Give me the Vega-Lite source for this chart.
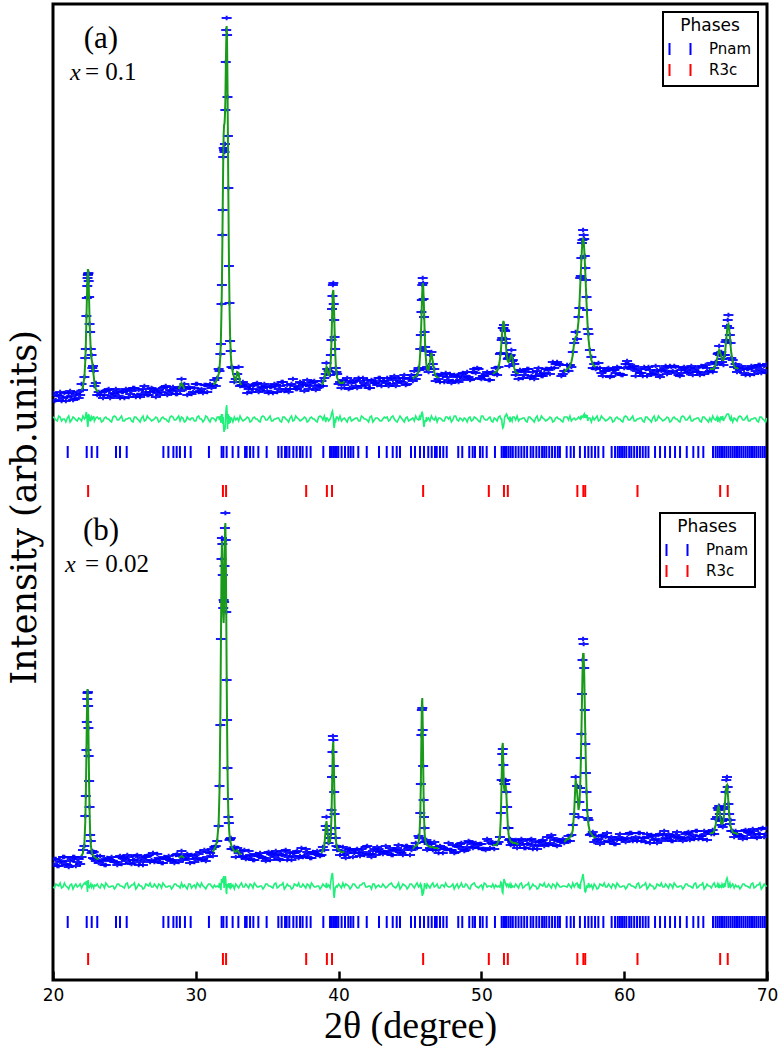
{
"$schema":"https://vega.github.io/schema/vega-lite/v6.json",
"width":714,"height":976,
"autosize":{"type":"none"},
"padding":{"left":53,"top":4,"right":13,"bottom":79},
"background":"white",
"config":{
 "view":{"stroke":"black","strokeWidth":3},
 "axis":{"grid":false,"labelColor":"black","tickColor":"black","titleColor":"black","titleFontWeight":"normal","domain":false},
 "axisY":{"ticks":false,"labels":false,"titleFont":"DejaVu Serif","titleFontSize":35,"titleAngle":-90,"titleX":-18,"titleY":503,"titleAlign":"center","titleBaseline":"alphabetic"},
 "legend":{"titleFont":"DejaVu Sans","titleFontSize":17,"titleFontWeight":"normal","titleColor":"black","titleAnchor":"middle","labelFont":"DejaVu Sans","labelFontSize":15,"labelColor":"black","symbolType":"M-1.05,-0.6L-1.05,0.6M1.05,-0.6L1.05,0.6","symbolSize":400,"symbolStrokeWidth":2,"symbolFillColor":"transparent","strokeColor":"black","strokeWidth":2,"padding":6,"rowPadding":0,"labelOffset":18,"titlePadding":3}
},
"datasets":{
"prof":[
{"t":20.0,"ao":587,"ac":583,"ad":563,"bo":116,"bc":118,"bd":93},
{"t":20.2,"ao":580,"ac":583,"ad":560,"bo":121,"bc":118,"bd":96},
{"t":20.4,"ao":584,"ac":583,"ad":564,"bo":114,"bc":118,"bd":94},
{"t":20.6,"ao":579,"ac":584,"ad":559,"bo":119,"bc":118,"bd":92},
{"t":20.8,"ao":587,"ac":584,"ad":561,"bo":123,"bc":118,"bd":97},
{"t":21.0,"ao":583,"ac":584,"ad":562,"bo":115,"bc":118,"bd":93},
{"t":21.2,"ao":589,"ac":584,"ad":558,"bo":119,"bc":119,"bd":95},
{"t":21.4,"ao":580,"ac":584,"ad":563,"bo":123,"bc":119,"bd":91},
{"t":21.6,"ao":586,"ac":584,"ad":560,"bo":114,"bc":119,"bd":96},
{"t":21.8,"ao":582,"ac":584,"ad":562,"bo":121,"bc":119,"bd":94},
{"t":22.0,"ao":596,"ac":590,"ad":559,"bo":123,"bc":124,"bd":92},
{"t":22.1,"ao":590,"ac":593,"ad":564,"bo":130,"bc":127,"bd":95},
{"t":22.2,"ao":603,"ac":603,"ad":561,"bo":134,"bc":137,"bd":97},
{"t":22.26,"ao":622,"ac":619,"ad":562,"bo":164,"bc":158,"bd":96},
{"t":22.3,"ao":631,"ac":636,"ad":566,"bo":184,"bc":186,"bd":97},
{"t":22.34,"ao":664,"ac":660,"ad":568,"bo":230,"bc":227,"bd":99},
{"t":22.37,"ao":682,"ac":679,"ad":564,"bo":258,"bc":260,"bd":96},
{"t":22.4,"ao":694,"ac":696,"ad":558,"bo":281,"bc":285,"bd":90},
{"t":22.42,"ao":702,"ac":704,"ad":555,"bo":287,"bc":291,"bd":88},
{"t":22.44,"ao":705,"ac":710,"ad":553,"bo":288,"bc":285,"bd":97},
{"t":22.46,"ao":706,"ac":710,"ad":556,"bo":274,"bc":270,"bd":100},
{"t":22.48,"ao":707,"ac":704,"ad":565,"bo":252,"bc":249,"bd":97},
{"t":22.5,"ao":699,"ac":696,"ad":566,"bo":224,"bc":227,"bd":92},
{"t":22.53,"ao":683,"ac":679,"ad":563,"bo":199,"bc":195,"bd":95},
{"t":22.56,"ao":656,"ac":660,"ad":559,"bo":173,"bc":170,"bd":93},
{"t":22.6,"ao":648,"ac":644,"ad":562,"bo":145,"bc":148,"bd":94},
{"t":22.65,"ao":631,"ac":628,"ad":560,"bo":139,"bc":135,"bd":96},
{"t":22.7,"ao":625,"ac":621,"ad":563,"bo":127,"bc":129,"bd":93},
{"t":22.75,"ao":612,"ac":617,"ad":561,"bo":129,"bc":126,"bd":95},
{"t":22.8,"ao":614,"ac":611,"ad":562,"bo":122,"bc":125,"bd":94},
{"t":22.85,"ao":609,"ac":604,"ad":564,"bo":128,"bc":124,"bd":92},
{"t":22.9,"ao":594,"ac":598,"ad":559,"bo":121,"bc":123,"bd":95},
{"t":23.0,"ao":597,"ac":591,"ad":562,"bo":119,"bc":122,"bd":94},
{"t":23.1,"ao":585,"ac":589,"ad":563,"bo":124,"bc":121,"bd":96},
{"t":23.2,"ao":588,"ac":588,"ad":561,"bo":117,"bc":121,"bd":93},
{"t":23.4,"ao":588,"ac":586,"ad":558,"bo":120,"bc":119,"bd":96},
{"t":23.6,"ao":585,"ac":586,"ad":562,"bo":115,"bc":119,"bd":92},
{"t":23.8,"ao":590,"ac":586,"ad":561,"bo":122,"bc":120,"bd":95},
{"t":24.0,"ao":582,"ac":586,"ad":559,"bo":120,"bc":120,"bd":93},
{"t":24.2,"ao":587,"ac":586,"ad":563,"bo":119,"bc":120,"bd":94},
{"t":24.4,"ao":591,"ac":587,"ad":563,"bo":118,"bc":120,"bd":93},
{"t":24.6,"ao":584,"ac":587,"ad":560,"bo":123,"bc":120,"bd":96},
{"t":24.8,"ao":588,"ac":587,"ad":564,"bo":116,"bc":120,"bd":94},
{"t":25.0,"ao":582,"ac":587,"ad":559,"bo":121,"bc":120,"bd":92},
{"t":25.2,"ao":590,"ac":587,"ad":561,"bo":125,"bc":120,"bd":97},
{"t":25.4,"ao":586,"ac":587,"ad":562,"bo":117,"bc":120,"bd":93},
{"t":25.6,"ao":592,"ac":587,"ad":558,"bo":120,"bc":120,"bd":95},
{"t":25.8,"ao":583,"ac":587,"ad":563,"bo":124,"bc":120,"bd":91},
{"t":26.0,"ao":590,"ac":588,"ad":560,"bo":115,"bc":120,"bd":96},
{"t":26.2,"ao":586,"ac":588,"ad":562,"bo":122,"bc":120,"bd":94},
{"t":26.4,"ao":594,"ac":588,"ad":559,"bo":120,"bc":121,"bd":92},
{"t":26.6,"ao":585,"ac":588,"ad":564,"bo":124,"bc":121,"bd":95},
{"t":26.8,"ao":588,"ac":588,"ad":561,"bo":118,"bc":121,"bd":97},
{"t":27.0,"ao":591,"ac":588,"ad":560,"bo":127,"bc":121,"bd":93},
{"t":27.2,"ao":583,"ac":588,"ad":563,"bo":119,"bc":121,"bd":94},
{"t":27.4,"ao":590,"ac":588,"ad":558,"bo":122,"bc":121,"bd":96},
{"t":27.6,"ao":588,"ac":589,"ad":562,"bo":117,"bc":121,"bd":92},
{"t":27.8,"ao":593,"ac":589,"ad":561,"bo":123,"bc":121,"bd":95},
{"t":28.0,"ao":585,"ac":589,"ad":559,"bo":121,"bc":121,"bd":93},
{"t":28.2,"ao":590,"ac":589,"ad":563,"bo":120,"bc":121,"bd":94},
{"t":28.4,"ao":593,"ac":589,"ad":563,"bo":120,"bc":122,"bd":93},
{"t":28.6,"ao":586,"ac":589,"ad":560,"bo":125,"bc":122,"bd":96},
{"t":28.8,"ao":592,"ac":591,"ad":564,"bo":118,"bc":122,"bd":94},
{"t":28.9,"ao":589,"ac":594,"ad":559,"bo":124,"bc":123,"bd":92},
{"t":29.0,"ao":601,"ac":597,"ad":563,"bo":129,"bc":124,"bd":97},
{"t":29.1,"ao":593,"ac":594,"ad":562,"bo":120,"bc":123,"bd":93},
{"t":29.2,"ao":596,"ac":591,"ad":558,"bo":122,"bc":122,"bd":95},
{"t":29.4,"ao":585,"ac":589,"ad":563,"bo":126,"bc":122,"bd":91},
{"t":29.6,"ao":592,"ac":590,"ad":560,"bo":117,"bc":122,"bd":96},
{"t":29.8,"ao":588,"ac":590,"ad":562,"bo":124,"bc":122,"bd":94},
{"t":30.0,"ao":596,"ac":590,"ad":559,"bo":121,"bc":122,"bd":92},
{"t":30.2,"ao":588,"ac":591,"ad":564,"bo":126,"bc":123,"bd":95},
{"t":30.4,"ao":591,"ac":591,"ad":561,"bo":120,"bc":123,"bd":97},
{"t":30.6,"ao":595,"ac":592,"ad":560,"bo":130,"bc":124,"bd":93},
{"t":30.8,"ao":588,"ac":593,"ad":563,"bo":123,"bc":125,"bd":94},
{"t":31.0,"ao":596,"ac":594,"ad":558,"bo":127,"bc":126,"bd":96},
{"t":31.2,"ao":595,"ac":596,"ad":562,"bo":124,"bc":128,"bd":92},
{"t":31.3,"ao":600,"ac":596,"ad":561,"bo":133,"bc":131,"bd":95},
{"t":31.4,"ao":594,"ac":598,"ad":559,"bo":134,"bc":134,"bd":93},
{"t":31.5,"ao":602,"ac":601,"ad":563,"bo":139,"bc":140,"bd":94},
{"t":31.6,"ao":611,"ac":606,"ad":563,"bo":154,"bc":157,"bd":93},
{"t":31.66,"ao":609,"ac":612,"ad":560,"bo":194,"bc":189,"bd":97},
{"t":31.72,"ao":626,"ac":624,"ad":564,"bo":255,"bc":263,"bd":92},
{"t":31.76,"ao":636,"ac":642,"ad":557,"bo":341,"bc":338,"bd":90},
{"t":31.8,"ao":676,"ac":670,"ad":566,"bo":421,"bc":412,"bd":101},
{"t":31.83,"ao":695,"ac":697,"ad":562,"bo":442,"bc":439,"bd":99},
{"t":31.86,"ao":745,"ac":736,"ad":566,"bo":436,"bc":428,"bd":100},
{"t":31.89,"ao":770,"ac":778,"ad":556,"bo":405,"bc":396,"bd":98},
{"t":31.92,"ao":823,"ac":818,"ad":563,"bo":372,"bc":366,"bd":97},
{"t":31.95,"ao":832,"ac":845,"ad":552,"bo":380,"bc":357,"bd":104},
{"t":31.98,"ao":830,"ac":855,"ad":548,"bo":378,"bc":372,"bd":92},
{"t":32.01,"ao":828,"ac":856,"ad":552,"bo":414,"bc":407,"bd":96},
{"t":32.04,"ao":836,"ac":864,"ad":550,"bo":452,"bc":445,"bd":101},
{"t":32.07,"ao":870,"ac":879,"ad":556,"bo":467,"bc":457,"bd":104},
{"t":32.1,"ao":918,"ac":910,"ad":566,"bo":440,"bc":429,"bd":100},
{"t":32.13,"ao":950,"ac":937,"ad":572,"bo":368,"bc":373,"bd":88},
{"t":32.16,"ao":962,"ac":954,"ad":575,"bo":300,"bc":309,"bd":86},
{"t":32.19,"ao":945,"ac":937,"ad":568,"bo":260,"bc":254,"bd":96},
{"t":32.22,"ao":883,"ac":896,"ad":551,"bo":212,"bc":212,"bd":94},
{"t":32.25,"ao":844,"ac":840,"ad":563,"bo":181,"bc":184,"bd":93},
{"t":32.28,"ao":792,"ac":784,"ad":566,"bo":163,"bc":166,"bd":93},
{"t":32.32,"ao":714,"ac":721,"ad":556,"bo":157,"bc":153,"bd":97},
{"t":32.36,"ao":677,"ac":675,"ad":564,"bo":140,"bc":145,"bd":93},
{"t":32.4,"ao":639,"ac":645,"ad":557,"bo":141,"bc":140,"bd":92},
{"t":32.45,"ao":629,"ac":625,"ad":562,"bo":142,"bc":137,"bd":97},
{"t":32.5,"ao":613,"ac":615,"ad":562,"bo":131,"bc":134,"bd":93},
{"t":32.6,"ao":612,"ac":607,"ad":558,"bo":131,"bc":131,"bd":95},
{"t":32.7,"ao":598,"ac":602,"ad":563,"bo":133,"bc":129,"bd":91},
{"t":32.8,"ao":601,"ac":599,"ad":560,"bo":123,"bc":128,"bd":96},
{"t":32.9,"ao":606,"ac":608,"ad":562,"bo":132,"bc":130,"bd":94},
{"t":33.0,"ao":613,"ac":607,"ad":559,"bo":127,"bc":128,"bd":92},
{"t":33.1,"ao":594,"ac":597,"ad":564,"bo":129,"bc":126,"bd":95},
{"t":33.2,"ao":595,"ac":595,"ad":561,"bo":123,"bc":126,"bd":97},
{"t":33.4,"ao":596,"ac":593,"ad":560,"bo":130,"bc":124,"bd":93},
{"t":33.6,"ao":587,"ac":592,"ad":563,"bo":122,"bc":124,"bd":94},
{"t":33.8,"ao":594,"ac":592,"ad":558,"bo":125,"bc":124,"bd":96},
{"t":34.0,"ao":591,"ac":592,"ad":562,"bo":120,"bc":124,"bd":92},
{"t":34.2,"ao":596,"ac":592,"ad":561,"bo":126,"bc":124,"bd":95},
{"t":34.4,"ao":588,"ac":592,"ad":559,"bo":124,"bc":124,"bd":93},
{"t":34.6,"ao":593,"ac":592,"ad":563,"bo":123,"bc":124,"bd":94},
{"t":34.8,"ao":596,"ac":592,"ad":563,"bo":122,"bc":124,"bd":93},
{"t":35.0,"ao":589,"ac":592,"ad":560,"bo":127,"bc":124,"bd":96},
{"t":35.2,"ao":593,"ac":592,"ad":564,"bo":120,"bc":124,"bd":94},
{"t":35.4,"ao":587,"ac":592,"ad":559,"bo":125,"bc":124,"bd":92},
{"t":35.6,"ao":595,"ac":592,"ad":561,"bo":129,"bc":124,"bd":97},
{"t":35.8,"ao":591,"ac":592,"ad":562,"bo":121,"bc":124,"bd":93},
{"t":36.0,"ao":598,"ac":593,"ad":558,"bo":125,"bc":125,"bd":95},
{"t":36.2,"ao":589,"ac":593,"ad":563,"bo":129,"bc":125,"bd":91},
{"t":36.4,"ao":595,"ac":593,"ad":560,"bo":120,"bc":125,"bd":96},
{"t":36.6,"ao":591,"ac":593,"ad":562,"bo":127,"bc":125,"bd":94},
{"t":36.8,"ao":601,"ac":595,"ad":559,"bo":124,"bc":125,"bd":92},
{"t":37.0,"ao":591,"ac":594,"ad":564,"bo":128,"bc":125,"bd":95},
{"t":37.2,"ao":593,"ac":593,"ad":561,"bo":122,"bc":125,"bd":97},
{"t":37.4,"ao":597,"ac":594,"ad":560,"bo":132,"bc":126,"bd":93},
{"t":37.6,"ao":589,"ac":594,"ad":563,"bo":124,"bc":126,"bd":94},
{"t":37.8,"ao":600,"ac":598,"ad":558,"bo":128,"bc":127,"bd":96},
{"t":38.0,"ao":594,"ac":595,"ad":562,"bo":122,"bc":126,"bd":92},
{"t":38.2,"ao":598,"ac":594,"ad":561,"bo":128,"bc":126,"bd":95},
{"t":38.4,"ao":590,"ac":594,"ad":559,"bo":126,"bc":126,"bd":93},
{"t":38.6,"ao":595,"ac":594,"ad":563,"bo":125,"bc":126,"bd":94},
{"t":38.8,"ao":599,"ac":595,"ad":563,"bo":125,"bc":127,"bd":93},
{"t":38.9,"ao":594,"ac":597,"ad":560,"bo":133,"bc":130,"bd":96},
{"t":39.0,"ao":602,"ac":601,"ad":564,"bo":130,"bc":134,"bd":94},
{"t":39.1,"ao":606,"ac":610,"ad":558,"bo":154,"bc":152,"bd":93},
{"t":39.15,"ao":617,"ac":613,"ad":562,"bo":163,"bc":159,"bd":97},
{"t":39.2,"ao":611,"ac":611,"ad":562,"bo":150,"bc":153,"bd":93},
{"t":39.3,"ao":609,"ac":604,"ad":559,"bo":137,"bc":137,"bd":95},
{"t":39.4,"ao":605,"ac":609,"ad":561,"bo":142,"bc":138,"bd":92},
{"t":39.46,"ao":625,"ac":622,"ad":563,"bo":146,"bc":148,"bd":99},
{"t":39.5,"ao":640,"ac":638,"ad":566,"bo":170,"bc":163,"bd":103},
{"t":39.54,"ao":671,"ac":661,"ad":568,"bo":203,"bc":191,"bd":106},
{"t":39.57,"ao":684,"ac":676,"ad":569,"bo":228,"bc":214,"bd":107},
{"t":39.6,"ao":695,"ac":688,"ad":566,"bo":244,"bc":235,"bd":102},
{"t":39.63,"ao":697,"ac":690,"ad":563,"bo":240,"bc":238,"bd":95},
{"t":39.66,"ao":676,"ac":681,"ad":555,"bo":214,"bc":223,"bd":85},
{"t":39.69,"ao":660,"ac":666,"ad":552,"bo":188,"bc":199,"bd":82},
{"t":39.72,"ao":643,"ac":649,"ad":555,"bo":166,"bc":175,"bd":86},
{"t":39.76,"ao":631,"ac":629,"ad":560,"bo":152,"bc":154,"bd":92},
{"t":39.8,"ao":612,"ac":616,"ad":559,"bo":142,"bc":142,"bd":93},
{"t":39.85,"ao":608,"ac":606,"ad":563,"bo":134,"bc":135,"bd":94},
{"t":39.9,"ao":606,"ac":602,"ad":563,"bo":130,"bc":132,"bd":93},
{"t":40.0,"ao":596,"ac":599,"ad":560,"bo":133,"bc":130,"bd":96},
{"t":40.1,"ao":598,"ac":597,"ad":564,"bo":125,"bc":129,"bd":94},
{"t":40.2,"ao":592,"ac":597,"ad":559,"bo":129,"bc":128,"bd":92},
{"t":40.3,"ao":600,"ac":597,"ad":561,"bo":133,"bc":128,"bd":97},
{"t":40.4,"ao":595,"ac":599,"ad":562,"bo":125,"bc":128,"bd":93},
{"t":40.6,"ao":602,"ac":597,"ad":558,"bo":127,"bc":127,"bd":95},
{"t":40.8,"ao":592,"ac":596,"ad":563,"bo":131,"bc":127,"bd":91},
{"t":41.0,"ao":598,"ac":596,"ad":560,"bo":123,"bc":128,"bd":96},
{"t":41.2,"ao":594,"ac":596,"ad":562,"bo":130,"bc":128,"bd":94},
{"t":41.4,"ao":602,"ac":596,"ad":559,"bo":127,"bc":128,"bd":92},
{"t":41.6,"ao":594,"ac":597,"ad":564,"bo":131,"bc":128,"bd":95},
{"t":41.8,"ao":597,"ac":597,"ad":561,"bo":125,"bc":128,"bd":97},
{"t":42.0,"ao":600,"ac":597,"ad":560,"bo":134,"bc":128,"bd":93},
{"t":42.2,"ao":592,"ac":597,"ad":563,"bo":126,"bc":128,"bd":94},
{"t":42.4,"ao":599,"ac":597,"ad":558,"bo":129,"bc":128,"bd":96},
{"t":42.6,"ao":597,"ac":598,"ad":562,"bo":125,"bc":129,"bd":92},
{"t":42.8,"ao":602,"ac":598,"ad":561,"bo":131,"bc":129,"bd":95},
{"t":43.0,"ao":594,"ac":598,"ad":559,"bo":129,"bc":129,"bd":93},
{"t":43.2,"ao":599,"ac":598,"ad":563,"bo":128,"bc":129,"bd":94},
{"t":43.4,"ao":602,"ac":598,"ad":563,"bo":127,"bc":129,"bd":93},
{"t":43.6,"ao":596,"ac":599,"ad":560,"bo":132,"bc":129,"bd":96},
{"t":43.8,"ao":600,"ac":599,"ad":564,"bo":125,"bc":129,"bd":94},
{"t":44.0,"ao":594,"ac":599,"ad":559,"bo":130,"bc":129,"bd":92},
{"t":44.2,"ao":602,"ac":599,"ad":561,"bo":135,"bc":130,"bd":97},
{"t":44.4,"ao":598,"ac":599,"ad":562,"bo":127,"bc":130,"bd":93},
{"t":44.6,"ao":605,"ac":600,"ad":558,"bo":130,"bc":130,"bd":95},
{"t":44.8,"ao":596,"ac":600,"ad":563,"bo":134,"bc":130,"bd":91},
{"t":45.0,"ao":602,"ac":600,"ad":560,"bo":125,"bc":130,"bd":96},
{"t":45.2,"ao":599,"ac":601,"ad":562,"bo":133,"bc":131,"bd":94},
{"t":45.3,"ao":609,"ac":603,"ad":559,"bo":132,"bc":133,"bd":92},
{"t":45.4,"ao":601,"ac":604,"ad":564,"bo":137,"bc":134,"bd":95},
{"t":45.5,"ao":605,"ac":605,"ad":561,"bo":132,"bc":135,"bd":97},
{"t":45.6,"ao":612,"ac":609,"ad":560,"bo":144,"bc":138,"bd":93},
{"t":45.66,"ao":610,"ac":615,"ad":563,"bo":142,"bc":144,"bd":94},
{"t":45.72,"ao":631,"ac":628,"ad":560,"bo":167,"bc":165,"bd":96},
{"t":45.76,"ao":645,"ac":642,"ad":564,"bo":196,"bc":197,"bd":93},
{"t":45.8,"ao":668,"ac":661,"ad":566,"bo":245,"bc":245,"bd":94},
{"t":45.83,"ao":680,"ac":676,"ad":565,"bo":270,"bc":276,"bd":88},
{"t":45.86,"ao":695,"ac":689,"ad":567,"bo":272,"bc":282,"bd":84},
{"t":45.89,"ao":702,"ac":697,"ad":566,"bo":250,"bc":256,"bd":87},
{"t":45.92,"ao":697,"ac":695,"ad":561,"bo":214,"bc":219,"bd":89},
{"t":45.95,"ao":681,"ac":685,"ad":556,"bo":180,"bc":187,"bd":88},
{"t":45.98,"ao":663,"ac":672,"ad":553,"bo":163,"bc":165,"bd":91},
{"t":46.02,"ao":648,"ac":651,"ad":557,"bo":152,"bc":148,"bd":97},
{"t":46.06,"ao":633,"ac":635,"ad":560,"bo":138,"bc":141,"bd":93},
{"t":46.1,"ao":629,"ac":624,"ad":558,"bo":138,"bc":138,"bd":95},
{"t":46.15,"ao":611,"ac":615,"ad":563,"bo":140,"bc":136,"bd":91},
{"t":46.2,"ao":613,"ac":611,"ad":560,"bo":130,"bc":135,"bd":96},
{"t":46.3,"ao":608,"ac":610,"ad":562,"bo":136,"bc":134,"bd":94},
{"t":46.4,"ao":625,"ac":619,"ad":559,"bo":132,"bc":133,"bd":92},
{"t":46.5,"ao":628,"ac":627,"ad":564,"bo":136,"bc":133,"bd":95},
{"t":46.6,"ao":616,"ac":618,"ad":561,"bo":130,"bc":133,"bd":97},
{"t":46.7,"ao":611,"ac":608,"ad":560,"bo":138,"bc":132,"bd":93},
{"t":46.8,"ao":599,"ac":604,"ad":563,"bo":130,"bc":132,"bd":94},
{"t":46.9,"ao":605,"ac":603,"ad":558,"bo":133,"bc":132,"bd":96},
{"t":47.0,"ao":601,"ac":602,"ad":562,"bo":127,"bc":131,"bd":92},
{"t":47.2,"ao":606,"ac":602,"ad":561,"bo":133,"bc":131,"bd":95},
{"t":47.4,"ao":598,"ac":602,"ad":559,"bo":131,"bc":131,"bd":93},
{"t":47.6,"ao":603,"ac":602,"ad":563,"bo":131,"bc":132,"bd":94},
{"t":47.8,"ao":606,"ac":602,"ad":563,"bo":130,"bc":132,"bd":93},
{"t":48.0,"ao":599,"ac":602,"ad":560,"bo":135,"bc":132,"bd":96},
{"t":48.2,"ao":604,"ac":603,"ad":564,"bo":128,"bc":132,"bd":94},
{"t":48.4,"ao":598,"ac":603,"ad":559,"bo":133,"bc":132,"bd":92},
{"t":48.6,"ao":606,"ac":603,"ad":561,"bo":137,"bc":132,"bd":97},
{"t":48.8,"ao":602,"ac":603,"ad":562,"bo":129,"bc":132,"bd":93},
{"t":49.0,"ao":608,"ac":603,"ad":558,"bo":133,"bc":133,"bd":95},
{"t":49.2,"ao":600,"ac":604,"ad":563,"bo":138,"bc":134,"bd":91},
{"t":49.4,"ao":608,"ac":606,"ad":560,"bo":132,"bc":137,"bd":96},
{"t":49.6,"ao":607,"ac":609,"ad":562,"bo":137,"bc":135,"bd":94},
{"t":49.8,"ao":611,"ac":605,"ad":559,"bo":132,"bc":133,"bd":92},
{"t":50.0,"ao":601,"ac":604,"ad":564,"bo":136,"bc":133,"bd":95},
{"t":50.2,"ao":604,"ac":604,"ad":561,"bo":131,"bc":134,"bd":97},
{"t":50.4,"ao":608,"ac":605,"ad":560,"bo":141,"bc":135,"bd":93},
{"t":50.6,"ao":600,"ac":605,"ad":563,"bo":132,"bc":134,"bd":94},
{"t":50.8,"ao":608,"ac":606,"ad":558,"bo":136,"bc":135,"bd":96},
{"t":50.9,"ao":606,"ac":607,"ad":562,"bo":131,"bc":135,"bd":92},
{"t":51.0,"ao":612,"ac":608,"ad":561,"bo":137,"bc":135,"bd":95},
{"t":51.1,"ao":605,"ac":609,"ad":559,"bo":136,"bc":136,"bd":93},
{"t":51.2,"ao":613,"ac":612,"ad":563,"bo":138,"bc":139,"bd":94},
{"t":51.3,"ao":626,"ac":621,"ad":564,"bo":143,"bc":145,"bd":93},
{"t":51.36,"ao":627,"ac":629,"ad":561,"bo":167,"bc":162,"bd":98},
{"t":51.42,"ao":640,"ac":641,"ad":561,"bo":200,"bc":202,"bd":97},
{"t":51.46,"ao":642,"ac":649,"ad":555,"bo":226,"bc":233,"bd":88},
{"t":51.5,"ao":652,"ac":655,"ad":552,"bo":231,"bc":237,"bd":87},
{"t":51.54,"ao":652,"ac":659,"ad":553,"bo":215,"bc":214,"bd":95},
{"t":51.58,"ao":655,"ac":657,"ad":556,"bo":199,"bc":193,"bd":101},
{"t":51.62,"ao":650,"ac":652,"ad":562,"bo":196,"bc":189,"bd":99},
{"t":51.66,"ao":649,"ac":645,"ad":564,"bo":196,"bc":193,"bd":98},
{"t":51.7,"ao":641,"ac":638,"ad":564,"bo":200,"bc":195,"bd":96},
{"t":51.75,"ao":637,"ac":629,"ad":566,"bo":188,"bc":185,"bd":94},
{"t":51.8,"ao":626,"ac":623,"ad":565,"bo":173,"bc":169,"bd":96},
{"t":51.85,"ao":621,"ac":619,"ad":562,"bo":152,"bc":155,"bd":96},
{"t":51.9,"ao":622,"ac":618,"ad":561,"bo":152,"bc":146,"bd":93},
{"t":51.95,"ao":614,"ac":619,"ad":562,"bo":140,"bc":142,"bd":94},
{"t":52.0,"ao":624,"ac":621,"ad":558,"bo":141,"bc":140,"bd":96},
{"t":52.05,"ao":625,"ac":624,"ad":562,"bo":135,"bc":139,"bd":92},
{"t":52.1,"ao":630,"ac":625,"ad":561,"bo":140,"bc":138,"bd":95},
{"t":52.15,"ao":619,"ac":623,"ad":559,"bo":138,"bc":138,"bd":93},
{"t":52.2,"ao":620,"ac":619,"ad":563,"bo":136,"bc":137,"bd":94},
{"t":52.3,"ao":616,"ac":612,"ad":563,"bo":135,"bc":137,"bd":93},
{"t":52.4,"ao":605,"ac":608,"ad":560,"bo":140,"bc":137,"bd":96},
{"t":52.5,"ao":608,"ac":607,"ad":564,"bo":132,"bc":136,"bd":94},
{"t":52.6,"ao":601,"ac":606,"ad":559,"bo":137,"bc":136,"bd":92},
{"t":52.8,"ao":609,"ac":606,"ad":561,"bo":141,"bc":136,"bd":97},
{"t":53.0,"ao":605,"ac":606,"ad":562,"bo":132,"bc":135,"bd":93},
{"t":53.2,"ao":611,"ac":606,"ad":558,"bo":136,"bc":136,"bd":95},
{"t":53.4,"ao":602,"ac":606,"ad":563,"bo":140,"bc":136,"bd":91},
{"t":53.6,"ao":608,"ac":606,"ad":560,"bo":131,"bc":136,"bd":96},
{"t":53.8,"ao":604,"ac":606,"ad":562,"bo":138,"bc":136,"bd":94},
{"t":54.0,"ao":612,"ac":606,"ad":559,"bo":135,"bc":136,"bd":92},
{"t":54.2,"ao":604,"ac":607,"ad":564,"bo":139,"bc":136,"bd":95},
{"t":54.4,"ao":607,"ac":607,"ad":561,"bo":134,"bc":137,"bd":97},
{"t":54.6,"ao":611,"ac":608,"ad":560,"bo":143,"bc":137,"bd":93},
{"t":54.8,"ao":606,"ac":611,"ad":563,"bo":137,"bc":139,"bd":94},
{"t":55.0,"ao":618,"ac":615,"ad":558,"bo":142,"bc":141,"bd":96},
{"t":55.2,"ao":616,"ac":617,"ad":562,"bo":135,"bc":139,"bd":92},
{"t":55.4,"ao":616,"ac":612,"ad":561,"bo":140,"bc":138,"bd":95},
{"t":55.6,"ao":604,"ac":608,"ad":559,"bo":138,"bc":138,"bd":93},
{"t":55.8,"ao":609,"ac":608,"ad":563,"bo":137,"bc":138,"bd":94},
{"t":56.0,"ao":615,"ac":611,"ad":563,"bo":139,"bc":141,"bd":93},
{"t":56.1,"ao":609,"ac":612,"ad":560,"bo":144,"bc":141,"bd":96},
{"t":56.2,"ao":615,"ac":614,"ad":564,"bo":139,"bc":143,"bd":94},
{"t":56.3,"ao":613,"ac":618,"ad":559,"bo":145,"bc":144,"bd":92},
{"t":56.4,"ao":628,"ac":625,"ad":561,"bo":155,"bc":150,"bd":97},
{"t":56.5,"ao":637,"ac":638,"ad":562,"bo":166,"bc":169,"bd":93},
{"t":56.6,"ao":648,"ac":643,"ad":560,"bo":203,"bc":201,"bd":96},
{"t":56.7,"ao":641,"ac":645,"ad":561,"bo":194,"bc":188,"bd":97},
{"t":56.8,"ao":663,"ac":659,"ad":563,"bo":163,"bc":170,"bd":92},
{"t":56.86,"ao":672,"ac":674,"ad":562,"bo":178,"bc":175,"bd":96},
{"t":56.92,"ao":702,"ac":694,"ad":561,"bo":192,"bc":194,"bd":91},
{"t":56.96,"ao":704,"ac":707,"ad":563,"bo":222,"bc":216,"bd":98},
{"t":57.0,"ao":722,"ac":720,"ad":562,"bo":246,"bc":244,"bd":99},
{"t":57.04,"ao":737,"ac":731,"ad":564,"bo":286,"bc":276,"bd":101},
{"t":57.08,"ao":740,"ac":739,"ad":564,"bo":320,"bc":307,"bd":104},
{"t":57.12,"ao":750,"ac":742,"ad":563,"bo":341,"bc":326,"bd":106},
{"t":57.16,"ao":745,"ac":739,"ad":565,"bo":336,"bc":326,"bd":101},
{"t":57.2,"ao":741,"ac":731,"ad":566,"bo":312,"bc":306,"bd":97},
{"t":57.24,"ao":724,"ac":719,"ad":562,"bo":270,"bc":274,"bd":89},
{"t":57.28,"ao":712,"ac":706,"ad":565,"bo":236,"bc":242,"bd":88},
{"t":57.32,"ao":700,"ac":692,"ad":565,"bo":207,"bc":213,"bd":89},
{"t":57.36,"ao":683,"ac":678,"ad":562,"bo":188,"bc":190,"bd":94},
{"t":57.4,"ao":670,"ac":665,"ad":565,"bo":170,"bc":173,"bd":94},
{"t":57.45,"ao":651,"ac":652,"ad":559,"bo":162,"bc":162,"bd":92},
{"t":57.5,"ao":646,"ac":641,"ad":562,"bo":160,"bc":155,"bd":97},
{"t":57.6,"ao":630,"ac":628,"ad":562,"bo":145,"bc":148,"bd":93},
{"t":57.7,"ao":623,"ac":620,"ad":558,"bo":146,"bc":146,"bd":95},
{"t":57.8,"ao":612,"ac":616,"ad":563,"bo":148,"bc":144,"bd":91},
{"t":57.9,"ao":616,"ac":614,"ad":560,"bo":138,"bc":143,"bd":96},
{"t":58.0,"ao":611,"ac":613,"ad":562,"bo":144,"bc":142,"bd":94},
{"t":58.2,"ao":617,"ac":611,"ad":559,"bo":141,"bc":142,"bd":92},
{"t":58.4,"ao":607,"ac":610,"ad":564,"bo":144,"bc":141,"bd":95},
{"t":58.6,"ao":609,"ac":609,"ad":561,"bo":138,"bc":141,"bd":97},
{"t":58.8,"ao":611,"ac":608,"ad":560,"bo":147,"bc":141,"bd":93},
{"t":59.0,"ao":603,"ac":608,"ad":563,"bo":138,"bc":140,"bd":94},
{"t":59.2,"ao":610,"ac":608,"ad":558,"bo":141,"bc":140,"bd":96},
{"t":59.4,"ao":607,"ac":608,"ad":562,"bo":136,"bc":140,"bd":92},
{"t":59.6,"ao":612,"ac":608,"ad":561,"bo":143,"bc":141,"bd":95},
{"t":59.8,"ao":605,"ac":609,"ad":559,"bo":141,"bc":141,"bd":93},
{"t":60.0,"ao":612,"ac":611,"ad":563,"bo":141,"bc":142,"bd":94},
{"t":60.2,"ao":619,"ac":615,"ad":563,"bo":142,"bc":144,"bd":93},
{"t":60.4,"ao":613,"ac":616,"ad":560,"bo":147,"bc":144,"bd":96},
{"t":60.6,"ao":613,"ac":612,"ad":564,"bo":139,"bc":143,"bd":94},
{"t":60.8,"ao":604,"ac":609,"ad":559,"bo":143,"bc":142,"bd":92},
{"t":61.0,"ao":611,"ac":608,"ad":561,"bo":147,"bc":142,"bd":97},
{"t":61.2,"ao":607,"ac":608,"ad":562,"bo":139,"bc":142,"bd":93},
{"t":61.4,"ao":613,"ac":608,"ad":558,"bo":142,"bc":142,"bd":95},
{"t":61.6,"ao":604,"ac":608,"ad":563,"bo":146,"bc":142,"bd":91},
{"t":61.8,"ao":610,"ac":608,"ad":560,"bo":137,"bc":142,"bd":96},
{"t":62.0,"ao":606,"ac":608,"ad":562,"bo":144,"bc":142,"bd":94},
{"t":62.2,"ao":614,"ac":608,"ad":559,"bo":141,"bc":142,"bd":92},
{"t":62.4,"ao":605,"ac":608,"ad":564,"bo":145,"bc":142,"bd":95},
{"t":62.6,"ao":609,"ac":609,"ad":561,"bo":139,"bc":142,"bd":97},
{"t":62.8,"ao":612,"ac":609,"ad":560,"bo":149,"bc":143,"bd":93},
{"t":63.0,"ao":606,"ac":611,"ad":563,"bo":141,"bc":143,"bd":94},
{"t":63.2,"ao":614,"ac":612,"ad":558,"bo":144,"bc":143,"bd":96},
{"t":63.4,"ao":609,"ac":610,"ad":562,"bo":139,"bc":143,"bd":92},
{"t":63.6,"ao":613,"ac":609,"ad":561,"bo":145,"bc":143,"bd":95},
{"t":63.8,"ao":605,"ac":609,"ad":559,"bo":143,"bc":143,"bd":93},
{"t":64.0,"ao":610,"ac":609,"ad":563,"bo":142,"bc":143,"bd":94},
{"t":64.2,"ao":613,"ac":609,"ad":563,"bo":142,"bc":144,"bd":93},
{"t":64.4,"ao":607,"ac":610,"ad":560,"bo":147,"bc":144,"bd":96},
{"t":64.6,"ao":612,"ac":611,"ad":564,"bo":140,"bc":144,"bd":94},
{"t":64.8,"ao":605,"ac":610,"ad":559,"bo":145,"bc":144,"bd":92},
{"t":65.0,"ao":612,"ac":609,"ad":561,"bo":149,"bc":144,"bd":97},
{"t":65.2,"ao":608,"ac":609,"ad":562,"bo":141,"bc":144,"bd":93},
{"t":65.4,"ao":614,"ac":609,"ad":558,"bo":144,"bc":144,"bd":95},
{"t":65.6,"ao":606,"ac":610,"ad":563,"bo":149,"bc":145,"bd":91},
{"t":65.8,"ao":612,"ac":610,"ad":560,"bo":140,"bc":145,"bd":96},
{"t":66.0,"ao":609,"ac":611,"ad":562,"bo":148,"bc":146,"bd":94},
{"t":66.1,"ao":617,"ac":611,"ad":559,"bo":146,"bc":147,"bd":92},
{"t":66.2,"ao":608,"ac":611,"ad":564,"bo":150,"bc":147,"bd":95},
{"t":66.3,"ao":612,"ac":612,"ad":561,"bo":146,"bc":149,"bd":97},
{"t":66.4,"ao":618,"ac":615,"ad":560,"bo":161,"bc":155,"bd":93},
{"t":66.5,"ao":616,"ac":621,"ad":563,"bo":163,"bc":165,"bd":94},
{"t":66.55,"ao":626,"ac":624,"ad":558,"bo":172,"bc":171,"bd":96},
{"t":66.6,"ao":627,"ac":628,"ad":562,"bo":170,"bc":174,"bd":92},
{"t":66.65,"ao":634,"ac":630,"ad":561,"bo":174,"bc":172,"bd":95},
{"t":66.7,"ao":625,"ac":629,"ad":559,"bo":166,"bc":166,"bd":93},
{"t":66.75,"ao":627,"ac":626,"ad":563,"bo":160,"bc":161,"bd":94},
{"t":66.8,"ao":628,"ac":624,"ad":563,"bo":155,"bc":157,"bd":93},
{"t":66.85,"ao":618,"ac":621,"ad":560,"bo":159,"bc":156,"bd":96},
{"t":66.9,"ao":621,"ac":620,"ad":564,"bo":153,"bc":157,"bd":94},
{"t":66.95,"ao":615,"ac":620,"ad":559,"bo":161,"bc":160,"bd":92},
{"t":67.0,"ao":625,"ac":622,"ad":561,"bo":171,"bc":166,"bd":97},
{"t":67.05,"ao":625,"ac":626,"ad":562,"bo":173,"bc":176,"bd":93},
{"t":67.1,"ao":638,"ac":633,"ad":563,"bo":188,"bc":186,"bd":97},
{"t":67.15,"ao":640,"ac":641,"ad":565,"bo":200,"bc":194,"bd":100},
{"t":67.2,"ao":654,"ac":649,"ad":566,"bo":203,"bc":195,"bd":102},
{"t":67.25,"ao":660,"ac":655,"ad":566,"bo":193,"bc":188,"bd":99},
{"t":67.3,"ao":665,"ac":656,"ad":566,"bo":176,"bc":177,"bd":92},
{"t":67.35,"ao":652,"ac":651,"ad":564,"bo":166,"bc":166,"bd":95},
{"t":67.4,"ao":645,"ac":643,"ad":561,"bo":156,"bc":159,"bd":97},
{"t":67.45,"ao":637,"ac":634,"ad":560,"bo":160,"bc":154,"bd":93},
{"t":67.5,"ao":622,"ac":627,"ad":563,"bo":149,"bc":151,"bd":94},
{"t":67.6,"ao":620,"ac":618,"ad":558,"bo":149,"bc":148,"bd":96},
{"t":67.7,"ao":613,"ac":614,"ad":562,"bo":143,"bc":147,"bd":92},
{"t":67.8,"ao":616,"ac":612,"ad":561,"bo":149,"bc":147,"bd":95},
{"t":67.9,"ao":608,"ac":612,"ad":559,"bo":146,"bc":146,"bd":93},
{"t":68.0,"ao":612,"ac":611,"ad":563,"bo":145,"bc":146,"bd":94},
{"t":68.2,"ao":614,"ac":610,"ad":563,"bo":144,"bc":146,"bd":93},
{"t":68.4,"ao":607,"ac":610,"ad":560,"bo":149,"bc":146,"bd":96},
{"t":68.6,"ao":611,"ac":610,"ad":564,"bo":142,"bc":146,"bd":94},
{"t":68.8,"ao":605,"ac":610,"ad":559,"bo":147,"bc":146,"bd":92},
{"t":69.0,"ao":613,"ac":610,"ad":561,"bo":151,"bc":146,"bd":97},
{"t":69.2,"ao":609,"ac":610,"ad":562,"bo":143,"bc":146,"bd":93},
{"t":69.4,"ao":615,"ac":610,"ad":558,"bo":146,"bc":146,"bd":95},
{"t":69.6,"ao":607,"ac":611,"ad":563,"bo":151,"bc":147,"bd":91},
{"t":69.8,"ao":614,"ac":612,"ad":560,"bo":143,"bc":148,"bd":96},
{"t":70.0,"ao":616,"ac":614,"ad":562,"bo":152,"bc":149,"bd":94},
{"t":20.1,"ao":579,"ad":562,"bo":121,"bd":92},{"t":20.3,"ao":585,"ad":559,"bo":114,"bd":95},{"t":20.5,"ao":588,"ad":563,"bo":118,"bd":97},{"t":20.7,"ao":582,"ad":561,"bo":123,"bd":93},{"t":20.9,"ao":579,"ad":558,"bo":116,"bd":94},
{"t":21.1,"ao":587,"ad":564,"bo":113,"bd":91},{"t":21.3,"ao":584,"ad":560,"bo":121,"bd":96},{"t":21.5,"ao":581,"ad":562,"bo":123,"bd":94},{"t":21.7,"ao":588,"ad":559,"bo":118,"bd":93},{"t":21.9,"ao":585,"ad":561,"bo":116,"bd":96},
{"t":23.3,"ao":585,"ad":562,"bo":124,"bd":92},{"t":23.5,"ao":582,"ad":559,"bo":119,"bd":95},{"t":23.7,"ao":589,"ad":563,"bo":115,"bd":97},{"t":23.9,"ao":591,"ad":561,"bo":121,"bd":93},{"t":24.1,"ao":584,"ad":558,"bo":123,"bd":94},
{"t":24.3,"ao":586,"ad":564,"bo":118,"bd":91},{"t":24.5,"ao":589,"ad":560,"bo":115,"bd":96},{"t":24.7,"ao":582,"ad":562,"bo":124,"bd":94},{"t":24.9,"ao":588,"ad":559,"bo":122,"bd":93},{"t":25.1,"ao":591,"ad":561,"bo":119,"bd":96},
{"t":25.3,"ao":583,"ad":562,"bo":123,"bd":92},{"t":25.5,"ao":589,"ad":559,"bo":116,"bd":95},{"t":25.7,"ao":592,"ad":563,"bo":120,"bd":97},{"t":25.9,"ao":585,"ad":561,"bo":125,"bd":93},{"t":26.1,"ao":583,"ad":558,"bo":118,"bd":94},
{"t":26.3,"ao":591,"ad":564,"bo":115,"bd":91},{"t":26.5,"ao":588,"ad":560,"bo":123,"bd":96},{"t":26.7,"ao":585,"ad":562,"bo":125,"bd":94},{"t":26.9,"ao":592,"ad":559,"bo":120,"bd":93},{"t":27.1,"ao":589,"ad":561,"bo":118,"bd":96},
{"t":27.3,"ao":587,"ad":562,"bo":126,"bd":92},{"t":27.5,"ao":585,"ad":559,"bo":121,"bd":95},{"t":27.7,"ao":592,"ad":563,"bo":117,"bd":97},{"t":27.9,"ao":594,"ad":561,"bo":122,"bd":93},{"t":28.1,"ao":587,"ad":558,"bo":124,"bd":94},
{"t":28.3,"ao":589,"ad":564,"bo":119,"bd":91},{"t":28.5,"ao":591,"ad":560,"bo":117,"bd":96},{"t":28.7,"ao":586,"ad":562,"bo":126,"bd":94},
{"t":29.3,"ao":591,"ad":559,"bo":124,"bd":93},{"t":29.5,"ao":593,"ad":561,"bo":121,"bd":96},{"t":29.7,"ao":586,"ad":562,"bo":125,"bd":92},{"t":29.9,"ao":592,"ad":559,"bo":118,"bd":95},{"t":30.1,"ao":596,"ad":563,"bo":122,"bd":97},
{"t":30.3,"ao":589,"ad":561,"bo":128,"bd":93},{"t":30.5,"ao":587,"ad":558,"bo":121,"bd":94},{"t":30.7,"ao":595,"ad":564,"bo":119,"bd":91},{"t":30.9,"ao":594,"ad":560,"bo":128,"bd":96},{"t":31.1,"ao":592,"ad":562,"bo":131,"bd":94},
{"t":33.3,"ao":598,"ad":559,"bo":124,"bd":93},{"t":33.5,"ao":593,"ad":561,"bo":121,"bd":96},{"t":33.7,"ao":591,"ad":562,"bo":129,"bd":92},{"t":33.9,"ao":588,"ad":559,"bo":124,"bd":95},{"t":34.1,"ao":595,"ad":563,"bo":120,"bd":97},
{"t":34.3,"ao":597,"ad":561,"bo":125,"bd":93},{"t":34.5,"ao":590,"ad":558,"bo":127,"bd":94},{"t":34.7,"ao":592,"ad":564,"bo":122,"bd":91},{"t":34.9,"ao":594,"ad":560,"bo":119,"bd":96},{"t":35.1,"ao":587,"ad":562,"bo":128,"bd":94},
{"t":35.3,"ao":593,"ad":559,"bo":126,"bd":93},{"t":35.5,"ao":596,"ad":561,"bo":123,"bd":96},{"t":35.7,"ao":588,"ad":562,"bo":127,"bd":92},{"t":35.9,"ao":594,"ad":559,"bo":120,"bd":95},{"t":36.1,"ao":598,"ad":563,"bo":125,"bd":97},
{"t":36.3,"ao":591,"ad":561,"bo":130,"bd":93},{"t":36.5,"ao":588,"ad":558,"bo":123,"bd":94},{"t":36.7,"ao":596,"ad":564,"bo":120,"bd":91},{"t":36.9,"ao":594,"ad":560,"bo":127,"bd":96},{"t":37.1,"ao":591,"ad":562,"bo":129,"bd":94},
{"t":37.3,"ao":598,"ad":559,"bo":124,"bd":93},{"t":37.5,"ao":595,"ad":561,"bo":123,"bd":96},{"t":37.7,"ao":595,"ad":562,"bo":131,"bd":92},{"t":37.9,"ao":591,"ad":559,"bo":126,"bd":95},{"t":38.1,"ao":597,"ad":563,"bo":122,"bd":97},
{"t":38.3,"ao":599,"ad":561,"bo":127,"bd":93},{"t":38.5,"ao":592,"ad":558,"bo":129,"bd":94},{"t":38.7,"ao":594,"ad":564,"bo":124,"bd":91},
{"t":40.5,"ao":599,"ad":560,"bo":122,"bd":96},{"t":40.7,"ao":591,"ad":562,"bo":131,"bd":94},{"t":40.9,"ao":597,"ad":559,"bo":129,"bd":93},{"t":41.1,"ao":600,"ad":561,"bo":127,"bd":96},{"t":41.3,"ao":592,"ad":562,"bo":131,"bd":92},
{"t":41.5,"ao":599,"ad":559,"bo":124,"bd":95},{"t":41.7,"ao":602,"ad":563,"bo":128,"bd":97},{"t":41.9,"ao":595,"ad":561,"bo":133,"bd":93},{"t":42.1,"ao":592,"ad":558,"bo":126,"bd":94},{"t":42.3,"ao":600,"ad":564,"bo":123,"bd":91},
{"t":42.5,"ao":597,"ad":560,"bo":131,"bd":96},{"t":42.7,"ao":595,"ad":562,"bo":133,"bd":94},{"t":42.9,"ao":602,"ad":559,"bo":128,"bd":93},{"t":43.1,"ao":599,"ad":561,"bo":126,"bd":96},{"t":43.3,"ao":597,"ad":562,"bo":134,"bd":92},
{"t":43.5,"ao":594,"ad":559,"bo":129,"bd":95},{"t":43.7,"ao":602,"ad":563,"bo":125,"bd":97},{"t":43.9,"ao":604,"ad":561,"bo":130,"bd":93},{"t":44.1,"ao":597,"ad":558,"bo":132,"bd":94},{"t":44.3,"ao":599,"ad":564,"bo":128,"bd":91},
{"t":44.5,"ao":602,"ad":560,"bo":125,"bd":96},{"t":44.7,"ao":595,"ad":562,"bo":134,"bd":94},{"t":44.9,"ao":601,"ad":559,"bo":132,"bd":93},{"t":45.1,"ao":605,"ad":561,"bo":130,"bd":96},
{"t":47.1,"ao":598,"ad":562,"bo":134,"bd":92},{"t":47.3,"ao":604,"ad":559,"bo":127,"bd":95},{"t":47.5,"ao":607,"ad":563,"bo":131,"bd":97},{"t":47.7,"ao":600,"ad":561,"bo":137,"bd":93},{"t":47.9,"ao":597,"ad":558,"bo":130,"bd":94},
{"t":48.1,"ao":605,"ad":564,"bo":127,"bd":91},{"t":48.3,"ao":603,"ad":560,"bo":134,"bd":96},{"t":48.5,"ao":600,"ad":562,"bo":136,"bd":94},{"t":48.7,"ao":607,"ad":559,"bo":131,"bd":93},{"t":48.9,"ao":604,"ad":561,"bo":130,"bd":96},
{"t":49.1,"ao":603,"ad":562,"bo":139,"bd":92},{"t":49.3,"ao":601,"ad":559,"bo":136,"bd":95},{"t":49.5,"ao":611,"ad":563,"bo":133,"bd":97},{"t":49.7,"ao":612,"ad":561,"bo":135,"bd":93},{"t":49.9,"ao":602,"ad":558,"bo":136,"bd":94},
{"t":50.1,"ao":604,"ad":564,"bo":131,"bd":91},{"t":50.3,"ao":606,"ad":560,"bo":130,"bd":96},{"t":50.5,"ao":600,"ad":562,"bo":139,"bd":94},{"t":50.7,"ao":607,"ad":559,"bo":137,"bd":93},
{"t":52.7,"ao":610,"ad":561,"bo":135,"bd":96},{"t":52.9,"ao":602,"ad":562,"bo":139,"bd":92},{"t":53.1,"ao":608,"ad":559,"bo":132,"bd":95},{"t":53.3,"ao":611,"ad":563,"bo":136,"bd":97},{"t":53.5,"ao":604,"ad":561,"bo":141,"bd":93},
{"t":53.7,"ao":601,"ad":558,"bo":134,"bd":94},{"t":53.9,"ao":609,"ad":564,"bo":131,"bd":91},{"t":54.1,"ao":606,"ad":560,"bo":138,"bd":96},{"t":54.3,"ao":604,"ad":562,"bo":140,"bd":94},{"t":54.5,"ao":611,"ad":559,"bo":136,"bd":93},
{"t":54.7,"ao":610,"ad":561,"bo":135,"bd":96},{"t":54.9,"ao":612,"ad":562,"bo":145,"bd":92},{"t":55.1,"ao":612,"ad":559,"bo":140,"bd":95},{"t":55.3,"ao":618,"ad":563,"bo":134,"bd":97},{"t":55.5,"ao":615,"ad":561,"bo":139,"bd":93},
{"t":55.7,"ao":606,"ad":558,"bo":141,"bd":94},
{"t":58.1,"ao":612,"ad":564,"bo":140,"bd":91},{"t":58.3,"ao":612,"ad":560,"bo":136,"bd":96},{"t":58.5,"ao":604,"ad":562,"bo":145,"bd":94},{"t":58.7,"ao":609,"ad":559,"bo":143,"bd":93},{"t":58.9,"ao":612,"ad":561,"bo":139,"bd":96},
{"t":59.1,"ao":604,"ad":562,"bo":143,"bd":92},{"t":59.3,"ao":610,"ad":559,"bo":136,"bd":95},{"t":59.5,"ao":613,"ad":563,"bo":140,"bd":97},{"t":59.7,"ao":606,"ad":561,"bo":146,"bd":93},{"t":59.9,"ao":605,"ad":558,"bo":140,"bd":94},
{"t":60.1,"ao":616,"ad":564,"bo":138,"bd":91},{"t":60.3,"ao":616,"ad":560,"bo":146,"bd":96},{"t":60.5,"ao":611,"ad":562,"bo":147,"bd":94},{"t":60.7,"ao":614,"ad":559,"bo":141,"bd":93},{"t":60.9,"ao":609,"ad":561,"bo":139,"bd":96},
{"t":61.1,"ao":607,"ad":562,"bo":147,"bd":92},{"t":61.3,"ao":604,"ad":559,"bo":142,"bd":95},{"t":61.5,"ao":611,"ad":563,"bo":138,"bd":97},{"t":61.7,"ao":613,"ad":561,"bo":143,"bd":93},{"t":61.9,"ao":606,"ad":558,"bo":145,"bd":94},
{"t":62.1,"ao":608,"ad":564,"bo":140,"bd":91},{"t":62.3,"ao":610,"ad":560,"bo":137,"bd":96},{"t":62.5,"ao":603,"ad":562,"bo":146,"bd":94},{"t":62.7,"ao":610,"ad":559,"bo":145,"bd":93},{"t":62.9,"ao":614,"ad":561,"bo":142,"bd":96},
{"t":63.1,"ao":608,"ad":562,"bo":146,"bd":92},{"t":63.3,"ao":613,"ad":559,"bo":139,"bd":95},{"t":63.5,"ao":614,"ad":563,"bo":143,"bd":97},{"t":63.7,"ao":607,"ad":561,"bo":148,"bd":93},{"t":63.9,"ao":604,"ad":558,"bo":141,"bd":94},
{"t":64.1,"ao":612,"ad":564,"bo":139,"bd":91},{"t":64.3,"ao":610,"ad":560,"bo":146,"bd":96},{"t":64.5,"ao":608,"ad":562,"bo":148,"bd":94},{"t":64.7,"ao":614,"ad":559,"bo":143,"bd":93},{"t":64.9,"ao":610,"ad":561,"bo":141,"bd":96},
{"t":65.1,"ao":608,"ad":562,"bo":149,"bd":92},{"t":65.3,"ao":605,"ad":559,"bo":144,"bd":95},{"t":65.5,"ao":613,"ad":563,"bo":141,"bd":97},{"t":65.7,"ao":615,"ad":561,"bo":146,"bd":93},{"t":65.9,"ao":608,"ad":558,"bo":148,"bd":94},
{"t":68.1,"ao":610,"ad":564,"bo":144,"bd":91},{"t":68.3,"ao":612,"ad":560,"bo":141,"bd":96},{"t":68.5,"ao":605,"ad":562,"bo":150,"bd":94},{"t":68.7,"ao":611,"ad":559,"bo":148,"bd":93},{"t":68.9,"ao":614,"ad":561,"bo":145,"bd":96},
{"t":69.1,"ao":606,"ad":562,"bo":149,"bd":92},{"t":69.3,"ao":612,"ad":559,"bo":142,"bd":95},{"t":69.5,"ao":615,"ad":563,"bo":146,"bd":97},{"t":69.7,"ao":610,"ad":561,"bo":152,"bd":93},{"t":69.9,"ao":608,"ad":558,"bo":146,"bd":94}
],
"refl":[
{"ph":"Pnam","t":21.03},{"ph":"Pnam","t":22.36},{"ph":"Pnam","t":22.71},{"ph":"Pnam","t":23.1},{"ph":"Pnam","t":24.41},{"ph":"Pnam","t":24.69},{"ph":"Pnam","t":25.16},{"ph":"Pnam","t":27.73},{"ph":"Pnam","t":28.08},{"ph":"Pnam","t":28.43},{"ph":"Pnam","t":28.66},{"ph":"Pnam","t":28.89},{"ph":"Pnam","t":29.24},{"ph":"Pnam","t":29.64},{"ph":"Pnam","t":30.92},{"ph":"Pnam","t":31.81},{"ph":"Pnam","t":31.93},{"ph":"Pnam","t":32.16},{"ph":"Pnam","t":32.58},{"ph":"Pnam","t":32.98},{"ph":"Pnam","t":33.45},{"ph":"Pnam","t":33.56},{"ph":"Pnam","t":33.8},{"ph":"Pnam","t":34.03},{"ph":"Pnam","t":34.38},{"ph":"Pnam","t":34.96},{"ph":"Pnam","t":35.78},{"ph":"Pnam","t":36.01},{"ph":"Pnam","t":36.25},{"ph":"Pnam","t":36.36},{"ph":"Pnam","t":36.55},{"ph":"Pnam","t":36.83},{"ph":"Pnam","t":37.06},{"ph":"Pnam","t":37.3},{"ph":"Pnam","t":37.48},{"ph":"Pnam","t":37.76},{"ph":"Pnam","t":38.04},{"ph":"Pnam","t":38.93},{"ph":"Pnam","t":39.4},{"ph":"Pnam","t":39.52},{"ph":"Pnam","t":39.63},{"ph":"Pnam","t":39.75},{"ph":"Pnam","t":39.87},{"ph":"Pnam","t":39.98},{"ph":"Pnam","t":40.21},{"ph":"Pnam","t":40.45},{"ph":"Pnam","t":40.68},{"ph":"Pnam","t":40.85},{"ph":"Pnam","t":41.03},{"ph":"Pnam","t":41.38},{"ph":"Pnam","t":41.97},{"ph":"Pnam","t":42.83},{"ph":"Pnam","t":43.37},{"ph":"Pnam","t":43.79},{"ph":"Pnam","t":44.07},{"ph":"Pnam","t":44.3},{"ph":"Pnam","t":45.07},{"ph":"Pnam","t":45.35},{"ph":"Pnam","t":45.7},{"ph":"Pnam","t":45.98},{"ph":"Pnam","t":46.28},{"ph":"Pnam","t":46.52},{"ph":"Pnam","t":46.75},{"ph":"Pnam","t":46.87},{"ph":"Pnam","t":47.1},{"ph":"Pnam","t":47.33},{"ph":"Pnam","t":47.57},{"ph":"Pnam","t":48.38},{"ph":"Pnam","t":48.66},{"ph":"Pnam","t":49.15},{"ph":"Pnam","t":49.39},{"ph":"Pnam","t":49.55},{"ph":"Pnam","t":49.9},{"ph":"Pnam","t":50.09},{"ph":"Pnam","t":50.37},{"ph":"Pnam","t":50.95},{"ph":"Pnam","t":51.42},{"ph":"Pnam","t":51.55},{"ph":"Pnam","t":51.65},{"ph":"Pnam","t":51.75},{"ph":"Pnam","t":51.9},{"ph":"Pnam","t":52.05},{"ph":"Pnam","t":52.2},{"ph":"Pnam","t":52.4},{"ph":"Pnam","t":52.6},{"ph":"Pnam","t":52.8},{"ph":"Pnam","t":53.0},{"ph":"Pnam","t":53.2},{"ph":"Pnam","t":53.45},{"ph":"Pnam","t":53.63},{"ph":"Pnam","t":53.85},{"ph":"Pnam","t":54.05},{"ph":"Pnam","t":54.25},{"ph":"Pnam","t":54.4},{"ph":"Pnam","t":54.55},{"ph":"Pnam","t":54.75},{"ph":"Pnam","t":54.95},{"ph":"Pnam","t":55.15},{"ph":"Pnam","t":55.35},{"ph":"Pnam","t":55.5},{"ph":"Pnam","t":55.97},{"ph":"Pnam","t":56.25},{"ph":"Pnam","t":56.48},{"ph":"Pnam","t":56.9},{"ph":"Pnam","t":57.25},{"ph":"Pnam","t":57.49},{"ph":"Pnam","t":57.72},{"ph":"Pnam","t":57.96},{"ph":"Pnam","t":58.19},{"ph":"Pnam","t":58.54},{"ph":"Pnam","t":59.12},{"ph":"Pnam","t":59.36},{"ph":"Pnam","t":59.55},{"ph":"Pnam","t":59.7},{"ph":"Pnam","t":59.85},{"ph":"Pnam","t":60.0},{"ph":"Pnam","t":60.15},{"ph":"Pnam","t":60.35},{"ph":"Pnam","t":60.5},{"ph":"Pnam","t":60.7},{"ph":"Pnam","t":60.9},{"ph":"Pnam","t":61.1},{"ph":"Pnam","t":61.3},{"ph":"Pnam","t":61.5},{"ph":"Pnam","t":61.7},{"ph":"Pnam","t":62.16},{"ph":"Pnam","t":62.51},{"ph":"Pnam","t":62.86},{"ph":"Pnam","t":63.21},{"ph":"Pnam","t":63.56},{"ph":"Pnam","t":63.91},{"ph":"Pnam","t":64.38},{"ph":"Pnam","t":64.84},{"ph":"Pnam","t":65.19},{"ph":"Pnam","t":65.54},{"ph":"Pnam","t":66.22},{"ph":"Pnam","t":66.4},{"ph":"Pnam","t":66.55},{"ph":"Pnam","t":66.7},{"ph":"Pnam","t":66.85},{"ph":"Pnam","t":67.0},{"ph":"Pnam","t":67.15},{"ph":"Pnam","t":67.3},{"ph":"Pnam","t":67.45},{"ph":"Pnam","t":67.6},{"ph":"Pnam","t":67.75},{"ph":"Pnam","t":67.9},{"ph":"Pnam","t":68.05},{"ph":"Pnam","t":68.2},{"ph":"Pnam","t":68.35},{"ph":"Pnam","t":68.5},{"ph":"Pnam","t":68.65},{"ph":"Pnam","t":68.8},{"ph":"Pnam","t":68.95},{"ph":"Pnam","t":69.1},{"ph":"Pnam","t":69.25},{"ph":"Pnam","t":69.4},{"ph":"Pnam","t":69.55},{"ph":"Pnam","t":69.7},{"ph":"Pnam","t":69.85},
{"ph":"R3c","t":22.46},{"ph":"R3c","t":31.9},{"ph":"R3c","t":32.12},{"ph":"R3c","t":37.73},{"ph":"R3c","t":39.18},{"ph":"R3c","t":39.54},{"ph":"R3c","t":45.92},{"ph":"R3c","t":50.52},{"ph":"R3c","t":51.58},{"ph":"R3c","t":51.85},{"ph":"R3c","t":56.72},{"ph":"R3c","t":57.14},{"ph":"R3c","t":57.27},{"ph":"R3c","t":60.93},{"ph":"R3c","t":66.72},{"ph":"R3c","t":67.25}
]
},
"encoding":{"x":{"field":"t","type":"quantitative","scale":{"domain":[20,70],"nice":false,"zero":false},"axis":{"values":[20,30,40,50,60,70],"title":"2θ (degree)","zindex":1,"tickSize":-9,"tickWidth":2.5,"labelFlush":false,"labelFont":"DejaVu Sans","labelFontSize":17,"labelPadding":16,"titleFont":"Liberation Serif","titleFontSize":38,"titleY":57,"titleBaseline":"alphabetic"}}},
"layer":[
{"data":{"name":"refl"},"layer":[
 {"transform":[{"filter":"datum.ph==='Pnam'"}],"mark":{"type":"rule","strokeWidth":2},
  "encoding":{"y":{"datum":534,"scale":{"domain":[0,976],"nice":false,"zero":false}},"y2":{"datum":522},
   "color":{"field":"ph","type":"nominal","scale":{"domain":["Pnam","R3c"],"range":["#0000ff","#ff0000"]},"legend":{"orient":"none","legendX":610,"legendY":8,"title":"Phases"}}}},
 {"transform":[{"filter":"datum.ph==='R3c'"}],"mark":{"type":"rule","strokeWidth":2},
  "encoding":{"y":{"datum":495,"scale":{"domain":[0,976],"nice":false,"zero":false}},"y2":{"datum":483},
   "color":{"field":"ph","type":"nominal","scale":{"domain":["Pnam","R3c"],"range":["#0000ff","#ff0000"]},"legend":{"orient":"none","legendX":610,"legendY":8,"title":"Phases"}}}}
]},
{"data":{"name":"refl"},"layer":[
 {"transform":[{"filter":"datum.ph==='Pnam'"}],"mark":{"type":"rule","strokeWidth":2},
  "encoding":{"y":{"datum":64,"scale":{"domain":[0,976],"nice":false,"zero":false}},"y2":{"datum":52},
   "color":{"field":"ph","type":"nominal","scale":{"domain":["Pnam","R3c"],"range":["#0000ff","#ff0000"]},"legend":{"orient":"none","legendX":607,"legendY":509,"title":"Phases"}}}},
 {"transform":[{"filter":"datum.ph==='R3c'"}],"mark":{"type":"rule","strokeWidth":2},
  "encoding":{"y":{"datum":27,"scale":{"domain":[0,976],"nice":false,"zero":false}},"y2":{"datum":15},
   "color":{"field":"ph","type":"nominal","scale":{"domain":["Pnam","R3c"],"range":["#0000ff","#ff0000"]},"legend":{"orient":"none","legendX":607,"legendY":509,"title":"Phases"}}}}
]},
{"data":{"name":"prof"},"mark":{"type":"point","shape":"M-1,0L1,0M0,-0.45L0,0.45","size":100,"color":"#0000ff","filled":false,"strokeWidth":2,"opacity":0.9,"clip":true},
 "encoding":{"y":{"field":"ao","type":"quantitative","title":"Intensity (arb.units)","scale":{"domain":[0,976],"nice":false,"zero":false}}}},
{"data":{"name":"prof"},"mark":{"type":"line","color":"#1a9a1a","strokeWidth":2,"clip":true},
 "encoding":{"y":{"field":"ac","type":"quantitative","title":"Intensity (arb.units)","scale":{"domain":[0,976],"nice":false,"zero":false}}}},
{"data":{"name":"prof"},"mark":{"type":"line","color":"#1ef07a","strokeWidth":1.6,"clip":true},
 "encoding":{"y":{"field":"ad","type":"quantitative","title":"Intensity (arb.units)","scale":{"domain":[0,976],"nice":false,"zero":false}}}},
{"data":{"name":"prof"},"mark":{"type":"point","shape":"M-1,0L1,0M0,-0.45L0,0.45","size":100,"color":"#0000ff","filled":false,"strokeWidth":2,"opacity":0.9,"clip":true},
 "encoding":{"y":{"field":"bo","type":"quantitative","title":"Intensity (arb.units)","scale":{"domain":[0,976],"nice":false,"zero":false}}}},
{"data":{"name":"prof"},"mark":{"type":"line","color":"#1a9a1a","strokeWidth":2,"clip":true},
 "encoding":{"y":{"field":"bc","type":"quantitative","title":"Intensity (arb.units)","scale":{"domain":[0,976],"nice":false,"zero":false}}}},
{"data":{"name":"prof"},"mark":{"type":"line","color":"#1ef07a","strokeWidth":1.6,"clip":true},
 "encoding":{"y":{"field":"bd","type":"quantitative","title":"Intensity (arb.units)","scale":{"domain":[0,976],"nice":false,"zero":false}}}},
{"data":{"name":"prof"},"transform":[{"filter":"datum.t === 20"}],"mark":{"type":"text","text":"(a)","font":"Liberation Serif","fontSize":31,"align":"center","baseline":"alphabetic","color":"black"},
 "encoding":{"x":{"datum":23.36},"y":{"datum":932,"scale":{"domain":[0,976],"nice":false,"zero":false}}}},
{"data":{"name":"prof"},"transform":[{"filter":"datum.t === 20"}],"mark":{"type":"text","text":"x","font":"Liberation Serif","fontSize":24,"fontStyle":"italic","align":"left","baseline":"alphabetic","color":"black"},
 "encoding":{"x":{"datum":21.19},"y":{"datum":900,"scale":{"domain":[0,976],"nice":false,"zero":false}}}},
{"data":{"name":"prof"},"transform":[{"filter":"datum.t === 20"}],"mark":{"type":"text","text":"= 0.1","font":"Liberation Serif","fontSize":25,"align":"left","baseline":"alphabetic","color":"black"},
 "encoding":{"x":{"datum":22.24},"y":{"datum":900,"scale":{"domain":[0,976],"nice":false,"zero":false}}}},
{"data":{"name":"prof"},"transform":[{"filter":"datum.t === 20"}],"mark":{"type":"text","text":"(b)","font":"Liberation Serif","fontSize":31,"align":"center","baseline":"alphabetic","color":"black"},
 "encoding":{"x":{"datum":23.36},"y":{"datum":440,"scale":{"domain":[0,976],"nice":false,"zero":false}}}},
{"data":{"name":"prof"},"transform":[{"filter":"datum.t === 20"}],"mark":{"type":"text","text":"x","font":"Liberation Serif","fontSize":24,"fontStyle":"italic","align":"left","baseline":"alphabetic","color":"black"},
 "encoding":{"x":{"datum":20.84},"y":{"datum":408,"scale":{"domain":[0,976],"nice":false,"zero":false}}}},
{"data":{"name":"prof"},"transform":[{"filter":"datum.t === 20"}],"mark":{"type":"text","text":"= 0.02","font":"Liberation Serif","fontSize":25,"align":"left","baseline":"alphabetic","color":"black"},
 "encoding":{"x":{"datum":22.24},"y":{"datum":408,"scale":{"domain":[0,976],"nice":false,"zero":false}}}}
],
"resolve":{"scale":{"color":"independent"}}
}
